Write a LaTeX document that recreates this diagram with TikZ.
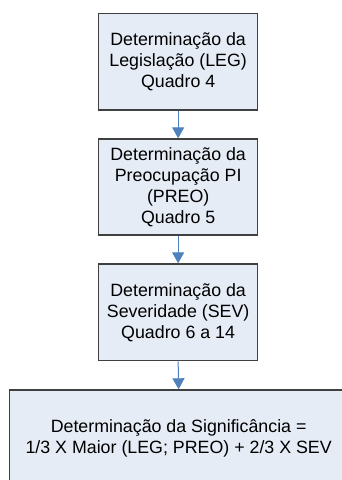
\documentclass[tikz,border=0pt]{standalone}
\usepackage{fontspec}
\setmainfont{Liberation Sans}
\usetikzlibrary{arrows.meta}
\definecolor{boxfill}{HTML}{E6ECF6}
\definecolor{boxline}{HTML}{404040}
\definecolor{arrowblue}{HTML}{4F81BD}
\begin{document}
\begin{tikzpicture}[x=1pt,y=-1pt,
  stepbox/.style={draw=boxline,fill=boxfill,line width=1.3pt,align=center,
    font=\fontsize{17.8}{21}\selectfont,inner sep=0pt,anchor=north west},
  flow/.style={draw=arrowblue,line width=1pt,-{Triangle[length=11pt,width=12pt]},arrowblue}]
\useasboundingbox (0,0) rectangle (341,480);
\fill[white] (0,0) rectangle (341,480);
\node[stepbox,minimum width=159pt,minimum height=96.5pt] (a) at (98,12.7)
  {Determinação da\\Legislação (LEG)\\Quadro 4};
\node[stepbox,minimum width=159pt,minimum height=96pt] (b) at (98,138.3)
  {Determinação da\\Preocupação PI\\(PREO)\\Quadro 5};
\node[stepbox,minimum width=159pt,minimum height=96.7pt] (c) at (98,263.3)
  {Determinação da\\Severidade (SEV)\\Quadro 6 a 14};
\node[stepbox,minimum width=338pt,minimum height=97pt] (d) at (9,389.3)
  {Determinação da Significância =\\1/3 X Maior (LEG; PREO) + 2/3 X SEV};
\draw[flow] (a.south) -- (b.north);
\draw[flow] (b.south) -- (c.north);
\draw[flow] (c.south) -- (d.north);
\end{tikzpicture}
\end{document}
